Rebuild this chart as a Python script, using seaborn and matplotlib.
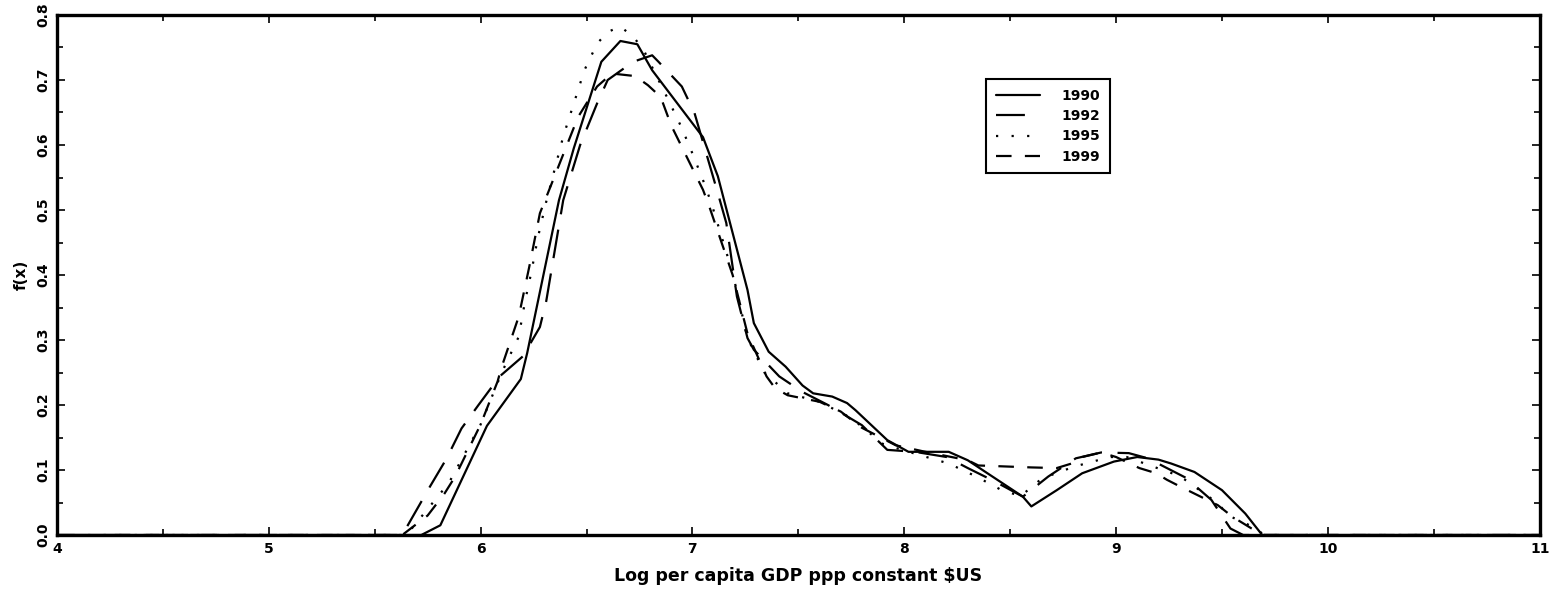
import numpy as np
import pandas as pd
import matplotlib
matplotlib.use("Agg")
import matplotlib.pyplot as plt
import seaborn as sns

# --- densities (x = log GDP per capita, y = f(x)) ---
x_1990 = [4.0, 5.72, 5.81, 6.03, 6.19, 6.22, 6.37, 6.44, 6.57, 6.66, 6.74, 6.81, 7.05, 7.12,
          7.26, 7.29, 7.36, 7.44, 7.52, 7.57, 7.66, 7.73, 7.77, 7.92, 8.02, 8.21, 8.30, 8.56,
          8.60, 8.72, 8.84, 8.99, 9.10, 9.20, 9.26, 9.37, 9.50, 9.61, 9.69, 11.0]
y_1990 = [0.0, 0.0, 0.015, 0.168, 0.240, 0.280, 0.515, 0.595, 0.728, 0.760, 0.755, 0.715, 0.612, 0.552,
          0.377, 0.326, 0.282, 0.259, 0.230, 0.218, 0.213, 0.203, 0.192, 0.146, 0.128, 0.128, 0.115, 0.059,
          0.044, 0.069, 0.095, 0.113, 0.120, 0.116, 0.110, 0.097, 0.069, 0.033, 0.0, 0.0]

x_1992 = [4.0, 5.63, 5.76, 5.84, 5.91, 5.99, 6.09, 6.20, 6.28, 6.31, 6.39, 6.47, 6.55, 6.60,
          6.72, 6.81, 6.84, 6.95, 7.01, 7.12, 7.16, 7.21, 7.26, 7.29, 7.41, 7.52, 7.64, 7.80,
          7.92, 8.05, 8.20, 8.30, 8.43, 8.56, 8.68, 8.81, 8.93, 9.06, 9.15, 9.33, 9.45, 9.54, 9.60, 11.0]
y_1992 = [0.0, 0.0, 0.074, 0.118, 0.164, 0.200, 0.244, 0.275, 0.320, 0.360, 0.515, 0.600, 0.664, 0.700,
          0.728, 0.738, 0.728, 0.690, 0.649, 0.526, 0.480, 0.367, 0.303, 0.285, 0.244, 0.220, 0.200, 0.169,
          0.131, 0.128, 0.120, 0.103, 0.082, 0.059, 0.090, 0.118, 0.127, 0.126, 0.118, 0.088, 0.054, 0.010, 0.0, 0.0]

x_1995 = [4.0, 5.65, 5.85, 6.00, 6.10, 6.18, 6.21, 6.24, 6.27, 6.31, 6.39, 6.45, 6.49, 6.55,
          6.60, 6.66, 6.72, 6.77, 6.89, 6.95, 7.00, 7.05, 7.09, 7.19, 7.26, 7.34, 7.45, 7.60,
          7.75, 7.90, 8.00, 8.21, 8.34, 8.46, 8.55, 8.65, 8.80, 8.97, 9.05, 9.22, 9.30, 9.48,
          9.53, 9.65, 9.70, 11.0]
y_1995 = [0.0, 0.0, 0.080, 0.170, 0.250, 0.305, 0.360, 0.405, 0.457, 0.513, 0.613, 0.674, 0.715, 0.756,
          0.774, 0.782, 0.767, 0.746, 0.667, 0.626, 0.587, 0.546, 0.510, 0.403, 0.303, 0.250, 0.218, 0.205,
          0.180, 0.140, 0.130, 0.110, 0.090, 0.069, 0.060, 0.087, 0.105, 0.120, 0.120, 0.100, 0.091, 0.049,
          0.030, 0.012, 0.0, 0.0]

x_1999 = [4.0, 5.63, 5.75, 5.83, 5.88, 6.00, 6.08, 6.10, 6.18, 6.23, 6.28, 6.46, 6.50, 6.55,
          6.62, 6.73, 6.79, 6.85, 6.90, 7.05, 7.08, 7.19, 7.26, 7.35, 7.39, 7.45, 7.60, 7.70,
          7.80, 7.96, 8.10, 8.30, 8.35, 8.60, 8.72, 8.79, 8.84, 8.93, 9.00, 9.11, 9.19, 9.24,
          9.30, 9.48, 9.55, 9.64, 9.70, 11.0]
y_1999 = [0.0, 0.0, 0.030, 0.064, 0.090, 0.170, 0.236, 0.259, 0.336, 0.413, 0.495, 0.643, 0.664, 0.690,
          0.710, 0.706, 0.692, 0.674, 0.630, 0.531, 0.505, 0.400, 0.310, 0.244, 0.226, 0.215, 0.205, 0.190,
          0.165, 0.138, 0.128, 0.115, 0.107, 0.104, 0.103, 0.110, 0.120, 0.127, 0.120, 0.103, 0.095, 0.085,
          0.075, 0.046, 0.028, 0.010, 0.0, 0.0]

years = ["1990", "1992", "1995", "1999"]
xs = [x_1990, x_1992, x_1995, x_1999]
ys = [y_1990, y_1992, y_1995, y_1999]

frames = []
for yr, xv, yv in zip(years, xs, ys):
    frames.append(pd.DataFrame({"x": xv, "fx": yv, "year": yr}))
df = pd.concat(frames, ignore_index=True)

# --- style ---
sns.set_style("ticks")
plt.rcParams["font.family"] = ["DejaVu Sans"]
plt.rcParams["font.weight"] = "bold"
for k in ["text.color", "axes.labelcolor", "xtick.color", "ytick.color"]:
    plt.rcParams[k] = "black"

fig = plt.figure(figsize=(15.6, 5.95), dpi=100)
ax = fig.add_axes([0.0365, 0.1008, 0.9505, 0.874])

dash_map = {"1990": "", "1992": (13, 7), "1995": (1, 6), "1999": (7, 6)}
sns.lineplot(data=df, x="x", y="fx", hue="year", style="year",
             palette=["black"] * 4, dashes=dash_map, linewidth=1.6,
             estimator=None, sort=False, ax=ax, legend=True)

ax.set_xlim(4, 11)
ax.set_ylim(0, 0.8)
ax.set_xticks(np.arange(4, 12, 1))
ax.set_xticks(np.arange(4, 11.01, 0.5), minor=True)
ax.set_yticks(np.arange(0, 0.81, 0.1))
ax.set_yticks(np.arange(0, 0.801, 0.05), minor=True)
ax.set_yticklabels([f"{v:.1f}" for v in np.arange(0, 0.81, 0.1)], rotation=90, va="center")
ax.tick_params(which="both", direction="in", top=True, right=True, labelsize=10, width=1.2)
ax.tick_params(which="major", length=6, pad=5)
ax.tick_params(which="minor", length=4)
for s in ax.spines.values():
    s.set_linewidth(2.4)
    s.set_color("black")

ax.set_xlabel("Log per capita GDP ppp constant $US", fontsize=12.5, fontweight="bold", labelpad=8)
ax.set_ylabel("f(x)", fontsize=11, fontweight="bold", labelpad=5)

handles, labels = ax.get_legend_handles_labels()
leg = ax.legend(handles, labels, loc="upper left", bbox_to_anchor=(0.622, 0.89),
                frameon=True, fancybox=False, framealpha=1, edgecolor="black",
                fontsize=10, handlelength=3.2, handletextpad=1.5, labelspacing=0.45,
                borderpad=0.7)
leg.get_frame().set_linewidth(1.5)
for t in leg.get_texts():
    t.set_fontweight("bold")
    t.set_color("black")

fig.savefig("out.png", dpi=100, facecolor="white")
